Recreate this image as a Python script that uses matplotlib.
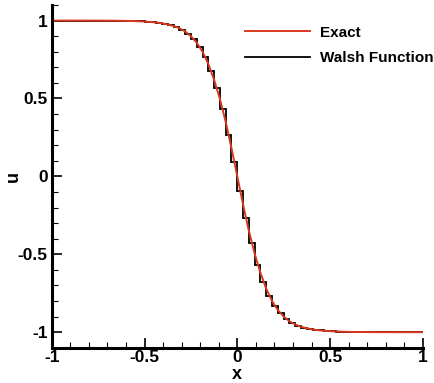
import matplotlib.pyplot as plt
from matplotlib.ticker import MultipleLocator

plt.rcParams['font.family'] = ['Liberation Sans', 'DejaVu Sans']
plt.rcParams['font.weight'] = 'bold'

# exact solution at x = -1, -1+1/32, ..., 1
x_exact = [i / 32.0 - 1.0 for i in range(65)]
u_exact = [1.0, 1.0, 1.0, 1.0, 0.9999, 0.9999, 0.9998, 0.9998, 0.9997,
           0.9995, 0.9993, 0.9989, 0.9985, 0.9978, 0.9968, 0.9953,
           0.9935, 0.991, 0.9875, 0.9825, 0.975, 0.965, 0.951, 0.93,
           0.9, 0.858, 0.8, 0.722, 0.62, 0.497, 0.35, 0.181, 0.0,
           -0.181, -0.35, -0.497, -0.62, -0.722, -0.8, -0.858, -0.9,
           -0.93, -0.951, -0.965, -0.975, -0.9825, -0.9875, -0.991,
           -0.9935, -0.9953, -0.9968, -0.9978, -0.9985, -0.9989,
           -0.9993, -0.9995, -0.9997, -0.9998, -0.9998, -0.9999,
           -0.9999, -1.0, -1.0, -1.0, -1.0]

# Walsh approximation: one value per cell, 64 cells of width 1/32
x_edges = [i / 32.0 - 1.0 for i in range(65)]
u_walsh = [1.0, 1.0, 1.0, 1.0, 1.0, 0.9999, 0.9998, 0.9998, 0.9996,
           0.9994, 0.999, 0.9987, 0.998, 0.997, 0.996, 0.994,
           0.992, 0.989, 0.985, 0.979, 0.97, 0.958, 0.94, 0.915,
           0.88, 0.83, 0.765, 0.678, 0.566, 0.43, 0.268, 0.092,
           -0.092, -0.268, -0.43, -0.566, -0.678, -0.765, -0.83, -0.88,
           -0.915, -0.94, -0.958, -0.97, -0.979, -0.985, -0.989, -0.992,
           -0.994, -0.996, -0.997, -0.998, -0.9987, -0.999, -0.9994,
           -0.9996, -0.9998, -0.9998, -0.9999, -1.0, -1.0, -1.0, -1.0, -1.0]

tick_vals = [-1, -0.5, 0, 0.5, 1]
tick_txt = ['-1', '-0.5', '0', '0.5', '1']

fig = plt.figure(figsize=(4.35, 3.83), dpi=100)
ax = fig.add_axes([0.119, 0.092, 0.853, 0.895])

walsh_line = ax.stairs(u_walsh, x_edges, color='black', linewidth=1.3,
                       baseline=None)
exact_line, = ax.plot(x_exact, u_exact, color='#d9391f', linewidth=1.4)

ax.set_xlim(-1, 1)
ax.set_ylim(-1.1, 1.1)
ax.set_xticks(tick_vals)
ax.set_xticklabels(tick_txt)
ax.set_yticks(tick_vals)
ax.set_yticklabels(tick_txt)
ax.xaxis.set_minor_locator(MultipleLocator(0.1))
ax.yaxis.set_minor_locator(MultipleLocator(0.1))

for s in ['top', 'right']:
    ax.spines[s].set_visible(False)
for s in ['left', 'bottom']:
    ax.spines[s].set_linewidth(2.2)

ax.tick_params(which='major', direction='in', length=7, width=1.2,
               labelsize=12.5, pad=3)
ax.tick_params(axis='x', which='major', pad=1.5)
ax.tick_params(which='minor', direction='in', length=4, width=0.8)

ax.set_xlabel('x', fontsize=13, fontweight='bold')
ax.set_ylabel('u', fontsize=13, fontweight='bold')
ax.xaxis.set_label_coords(0.5, -0.077)
ax.yaxis.set_label_coords(-0.103, 0.5)
ax.xaxis.label.set_va('center')
ax.yaxis.label.set_va('center')

ax.legend([exact_line, walsh_line], ['Exact', 'Walsh Function'],
          loc='upper right', bbox_to_anchor=(1.065, 0.98), frameon=False,
          fontsize=11, handlelength=4.2, labelspacing=0.75,
          handletextpad=0.65)

fig.savefig('out.png', dpi=100)
